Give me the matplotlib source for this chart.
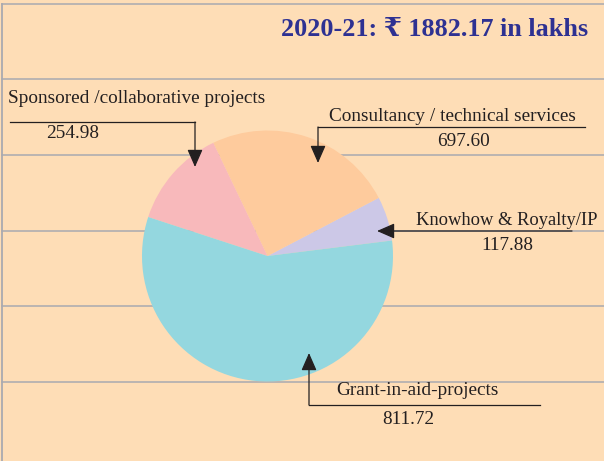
import numpy as np
from matplotlib import pyplot as plt

# slice labels and the amounts printed next to them (Rs. lakhs)
labels = ['Knowhow & Royalty/IP', 'Consultancy / technical services',
          'Sponsored /collaborative projects', 'Grant-in-aid-projects']
amounts = [117.88, 697.60, 254.98, 811.72]
# slice sizes as drawn in the picture (degrees)
drawn_shares = [20.5, 88.0, 46.3, 205.2]
colors = ['#CCC8E7', '#FECB9D', '#F8B9BB', '#94D7DF']
total = 1882.17

if __name__ == "__main__":

    bg = '#FEDDB6'
    grey = '#A9A9B0'
    ink = '#231F20'
    serif = ['Liberation Serif', 'DejaVu Serif', 'DejaVu Sans']

    fig = plt.figure(figsize=(6.04, 4.61), dpi=100)
    fig.patch.set_facecolor(bg)
    ax = fig.add_axes([0, 0, 1, 1])
    ax.set_facecolor(bg)

    # horizontal rules and frame
    for y in 4 + 75.5 * np.arange(6):
        ax.plot([2, 604], [y, y], color=grey, lw=1.1, zorder=1)
    ax.plot([2, 2], [4, 461], color=grey, lw=1.3, zorder=1)

    # y runs downward, so draw clockwise in data space
    ax.pie(drawn_shares, colors=colors, startangle=-7.1, counterclock=False,
           center=(267.5, 256), radius=125.5, frame=True,
           wedgeprops=dict(linewidth=0, zorder=2))
    ax.set_xlim(0, 604)
    ax.set_ylim(461, 0)
    ax.set_aspect('equal')
    ax.axis('off')

    ax.text(435, 29, f'2020-21: \u20b9 {total:.2f} in lakhs', ha='center', va='center',
            fontsize=18.8, fontweight='bold', color='#2E3192', family=serif)

    arrow = dict(arrowstyle='-|>,head_length=0.8,head_width=0.35',
                 mutation_scale=13.5, color=ink, lw=0.9, shrinkA=0, shrinkB=0)
    fs = 13.9

    # Sponsored
    ax.text(8, 98, labels[2], ha='left', va='center', fontsize=fs, color=ink, family=serif)
    ax.text(73, 133, f'{amounts[2]:.2f}', ha='center', va='center', fontsize=fs, color=ink, family=serif)
    ax.plot([10, 195], [122, 122], color=ink, lw=0.9, zorder=3)
    ax.annotate('', xy=(195, 167), xytext=(195, 122), arrowprops=arrow, zorder=4)

    # Consultancy
    ax.text(452, 116, labels[1], ha='center', va='center', fontsize=fs, color=ink, family=serif)
    ax.text(463, 141, f'{amounts[1]:.2f}', ha='center', va='center', fontsize=fs, color=ink, family=serif)
    ax.plot([585, 318], [127, 127], color=ink, lw=0.9, zorder=3)
    ax.annotate('', xy=(318, 163), xytext=(318, 127), arrowprops=arrow, zorder=4)

    # Knowhow
    ax.text(507, 220, labels[0], ha='center', va='center', fontsize=13.3, color=ink, family=serif)
    ax.text(507, 245, f'{amounts[0]:.2f}', ha='center', va='center', fontsize=fs, color=ink, family=serif)
    ax.annotate('', xy=(377, 231), xytext=(572, 231), arrowprops=arrow, zorder=4)

    # Grant
    ax.text(417, 390, labels[3], ha='center', va='center', fontsize=fs, color=ink, family=serif)
    ax.text(408, 419, f'{amounts[3]:.2f}', ha='center', va='center', fontsize=fs, color=ink, family=serif)
    ax.plot([540, 309], [405, 405], color=ink, lw=0.9, zorder=3)
    ax.annotate('', xy=(309, 353), xytext=(309, 405), arrowprops=arrow, zorder=4)

    fig.savefig('out.png', dpi=100, facecolor=bg)
